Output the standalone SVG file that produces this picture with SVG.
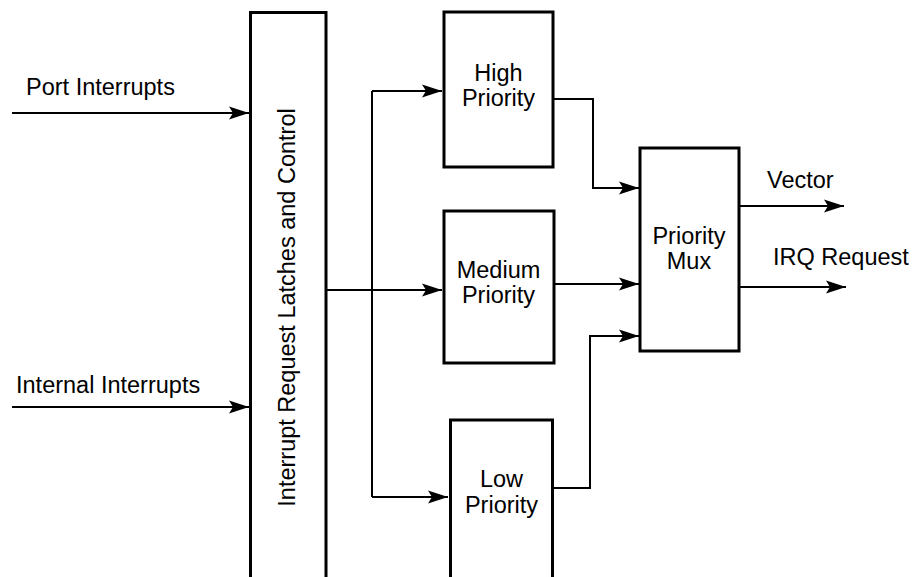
<svg xmlns="http://www.w3.org/2000/svg" width="913" height="577" viewBox="0 0 913 577">
<defs>
<marker id="arr" markerUnits="userSpaceOnUse" markerWidth="22" markerHeight="14" viewBox="-21 -7 22 14" refX="0" refY="0" orient="auto">
<path d="M0,0 L-20,-6.5 L-16,0 L-20,6.5 Z" fill="#000"/>
</marker>
<style>
.box{fill:#fff;stroke:#000;stroke-width:3}
.ln{fill:none;stroke:#000;stroke-width:2}
.ar{fill:none;stroke:#000;stroke-width:2;marker-end:url(#arr)}
text{font-family:"Liberation Sans",Arial,sans-serif;font-size:23.5px;fill:#000}
.c{text-anchor:middle}
</style>
</defs>
<rect width="913" height="577" fill="#fff"/>
<g id="connectors">
<path class="ar" d="M12,113 H249"/>
<path class="ar" d="M12,407 H249"/>
<path class="ar" d="M327,290 H442"/>
<path class="ln" d="M372,91 V497"/>
<path class="ar" d="M372,91 H442"/>
<path class="ar" d="M372,497 H448"/>
<path class="ar" d="M554,99 H593 V188 H639"/>
<path class="ar" d="M555,284 H639"/>
<path class="ar" d="M554,488 H590 V336 H639"/>
<path class="ar" d="M740,206 H844"/>
<path class="ar" d="M740,287 H846"/>
</g>
<g id="latches">
<path class="box" d="M250.5,580 V12.5 H326 V580"/>
<text class="c" transform="translate(295,307.5) rotate(-90)">Interrupt Request Latches and Control</text>
</g>
<g id="high">
<rect class="box" x="444" y="12" width="109" height="155"/>
<text class="c" x="498.5" y="81">High</text>
<text class="c" x="498.5" y="106">Priority</text>
</g>
<g id="medium">
<rect class="box" x="444" y="211" width="110" height="152"/>
<text class="c" x="498.5" y="278">Medium</text>
<text class="c" x="498.5" y="303">Priority</text>
</g>
<g id="low">
<path class="box" d="M450.5,580 V420 H552.5 V580"/>
<text class="c" x="501.5" y="487">Low</text>
<text class="c" x="501.5" y="513">Priority</text>
</g>
<g id="mux">
<rect class="box" x="640" y="148" width="99" height="203"/>
<text class="c" x="689" y="244">Priority</text>
<text class="c" x="689" y="269">Mux</text>
</g>
<g id="labels">
<text x="26" y="95">Port Interrupts</text>
<text x="16" y="393">Internal Interrupts</text>
<text x="767" y="188">Vector</text>
<text x="773" y="265">IRQ Request</text>
</g>
</svg>
